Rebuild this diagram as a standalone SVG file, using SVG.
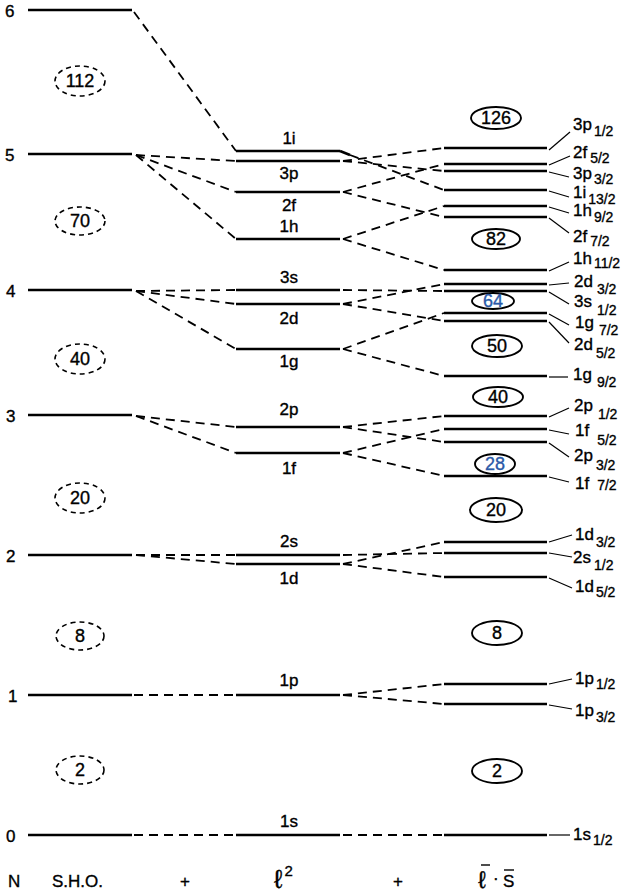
<svg xmlns="http://www.w3.org/2000/svg" width="635" height="896" viewBox="0 0 635 896">
<style>
text{font-family:"Liberation Sans","DejaVu Sans",Arial,sans-serif;fill:#000;stroke:#000;stroke-width:0.35}
.lv{stroke:#000;stroke-width:2.6;fill:none}
.sho{stroke:#000;stroke-width:2.6;fill:none}
.dl{stroke:#000;stroke-width:1.8;fill:none;stroke-dasharray:9 6}
.ld{stroke:#000;stroke-width:1.2;fill:none}
.lab{font-size:17px}
.mid{font-size:17px;text-anchor:middle}
.sub{font-size:14px}
.num{font-size:18px;text-anchor:middle}
.de{fill:none;stroke:#000;stroke-width:1.6;stroke-dasharray:5 4}
.se{fill:none;stroke:#000;stroke-width:1.9}
.blue{fill:#2b5aa8;stroke:#2b5aa8}
.bar{stroke:#000;stroke-width:1.4}
</style>

<g id="connectors">
  <path class="dl" d="M134,12 L236,151"/>
  <path class="dl" d="M136,155 L236,161"/>
  <path class="dl" d="M136,155 L236,192"/>
  <path class="dl" d="M136,155 L236,239"/>
  <path class="dl" d="M136,291 L236,290"/>
  <path class="dl" d="M136,291 L236,304"/>
  <path class="dl" d="M136,291 L236,349"/>
  <path class="dl" d="M136,416 L236,427"/>
  <path class="dl" d="M136,416 L236,453"/>
  <path class="dl" d="M136,555 L236,555"/>
  <path class="dl" d="M136,555 L236,564"/>
  <path class="dl" d="M134,695 L236,695"/>
  <path class="dl" d="M134,835 L236,835"/>

  <path class="lv" d="M340,151 L350,155"/>
  <path class="dl" d="M350,155 L444,190"/>
  <path class="dl" d="M343,161 L444,148"/>
  <path class="dl" d="M343,161 L444,171"/>
  <path class="dl" d="M343,192 L444,164"/>
  <path class="dl" d="M343,192 L444,217"/>
  <path class="dl" d="M343,239 L444,206"/>
  <path class="dl" d="M343,239 L444,270"/>
  <path class="dl" d="M343,290 L444,291"/>
  <path class="dl" d="M343,304 L444,284"/>
  <path class="dl" d="M343,304 L444,321"/>
  <path class="dl" d="M343,349 L444,313"/>
  <path class="dl" d="M343,349 L444,376"/>
  <path class="dl" d="M343,427 L444,416"/>
  <path class="dl" d="M343,427 L444,442"/>
  <path class="dl" d="M343,453 L444,429"/>
  <path class="dl" d="M343,453 L444,476"/>
  <path class="dl" d="M343,555 L444,553"/>
  <path class="dl" d="M343,564 L444,542"/>
  <path class="dl" d="M343,564 L444,577"/>
  <path class="dl" d="M343,695 L444,684"/>
  <path class="dl" d="M343,695 L444,704"/>
  <path class="dl" d="M343,835 L444,835"/>

  <path class="ld" d="M549,150 L570,132"/>
  <path class="ld" d="M549,165 L570,156"/>
  <path class="ld" d="M549,172 L569,177"/>
  <path class="ld" d="M549,191 L569,197"/>
  <path class="ld" d="M549,207 L569,213"/>
  <path class="ld" d="M549,218 L569,233"/>
  <path class="ld" d="M549,271 L569,262"/>
  <path class="ld" d="M549,285 L569,283"/>
  <path class="ld" d="M549,292 L569,304"/>
  <path class="ld" d="M549,314 L569,325"/>
  <path class="ld" d="M549,322 L569,343"/>
  <path class="ld" d="M549,377 L568,377"/>
  <path class="ld" d="M549,417 L569,408"/>
  <path class="ld" d="M549,430 L569,434"/>
  <path class="ld" d="M549,443 L569,457"/>
  <path class="ld" d="M549,477 L569,482"/>
  <path class="ld" d="M549,542 L572,535"/>
  <path class="ld" d="M549,553 L572,557"/>
  <path class="ld" d="M549,578 L572,588"/>
  <path class="ld" d="M549,684 L572,679"/>
  <path class="ld" d="M549,705 L572,709"/>
  <path class="ld" d="M549,835 L570,835"/>
</g>

<g id="sho-levels">
  <g id="sho6"><line class="sho" x1="28" y1="10" x2="132" y2="10"/><text class="lab" x="5" y="17">6</text></g>
  <g id="sho5"><line class="sho" x1="28" y1="154" x2="132" y2="154"/><text class="lab" x="5" y="161">5</text></g>
  <g id="sho4"><line class="sho" x1="28" y1="290" x2="132" y2="290"/><text class="lab" x="6" y="297">4</text></g>
  <g id="sho3"><line class="sho" x1="28" y1="415" x2="132" y2="415"/><text class="lab" x="6" y="422">3</text></g>
  <g id="sho2"><line class="sho" x1="28" y1="555" x2="132" y2="555"/><text class="lab" x="6" y="562">2</text></g>
  <g id="sho1"><line class="sho" x1="28" y1="695" x2="132" y2="695"/><text class="lab" x="8" y="702">1</text></g>
  <g id="sho0"><line class="sho" x1="28" y1="835" x2="132" y2="835"/><text class="lab" x="6" y="842">0</text></g>
</g>

<g id="sho-magic">
  <g id="m112"><ellipse class="de" cx="80" cy="81" rx="25" ry="15"/><text class="num" x="80" y="87">112</text></g>
  <g id="m70"><ellipse class="de" cx="80" cy="221" rx="25" ry="14"/><text class="num" x="80" y="227">70</text></g>
  <g id="m40"><ellipse class="de" cx="80" cy="359" rx="25" ry="15"/><text class="num" x="80" y="365">40</text></g>
  <g id="m20"><ellipse class="de" cx="80" cy="498" rx="25" ry="15"/><text class="num" x="80" y="504">20</text></g>
  <g id="m8"><ellipse class="de" cx="80" cy="636" rx="24" ry="14"/><text class="num" x="80" y="642">8</text></g>
  <g id="m2"><ellipse class="de" cx="80" cy="770" rx="24" ry="14"/><text class="num" x="80" y="776">2</text></g>
</g>

<g id="l2-levels">
  <g id="l1i"><line class="lv" x1="236" y1="151" x2="340" y2="151"/><text class="mid" x="289" y="144">1i</text></g>
  <g id="l3p"><line class="lv" x1="236" y1="161" x2="340" y2="161"/><text class="mid" x="289" y="179">3p</text></g>
  <g id="l2f"><line class="lv" x1="236" y1="192" x2="340" y2="192"/><text class="mid" x="289" y="211">2f</text></g>
  <g id="l1h"><line class="lv" x1="236" y1="239" x2="340" y2="239"/><text class="mid" x="289" y="232">1h</text></g>
  <g id="l3s"><line class="lv" x1="236" y1="290" x2="340" y2="290"/><text class="mid" x="289" y="283">3s</text></g>
  <g id="l2d"><line class="lv" x1="236" y1="304" x2="340" y2="304"/><text class="mid" x="289" y="324">2d</text></g>
  <g id="l1g"><line class="lv" x1="236" y1="349" x2="340" y2="349"/><text class="mid" x="289" y="367">1g</text></g>
  <g id="l2p"><line class="lv" x1="236" y1="427" x2="340" y2="427"/><text class="mid" x="289" y="415">2p</text></g>
  <g id="l1f"><line class="lv" x1="236" y1="453" x2="340" y2="453"/><text class="mid" x="289" y="474">1f</text></g>
  <g id="l2s"><line class="lv" x1="236" y1="555" x2="340" y2="555"/><text class="mid" x="289" y="547">2s</text></g>
  <g id="l1d"><line class="lv" x1="236" y1="564" x2="340" y2="564"/><text class="mid" x="289" y="584">1d</text></g>
  <g id="l1p"><line class="lv" x1="236" y1="695" x2="340" y2="695"/><text class="mid" x="289" y="686">1p</text></g>
  <g id="l1s"><line class="lv" x1="236" y1="835" x2="340" y2="835"/><text class="mid" x="289" y="827">1s</text></g>
</g>

<g id="ls-levels">
  <g id="s3p12"><line class="lv" x1="444" y1="148" x2="547" y2="148"/><text class="lab" x="573" y="130">3p<tspan class="sub" dx="2" dy="6">1/2</tspan></text></g>
  <g id="s2f52"><line class="lv" x1="444" y1="164" x2="547" y2="164"/><text class="lab" x="573" y="158">2f<tspan class="sub" dx="3" dy="5">5/2</tspan></text></g>
  <g id="s3p32"><line class="lv" x1="444" y1="171" x2="547" y2="171"/><text class="lab" x="573" y="179">3p<tspan class="sub" dx="2" dy="5">3/2</tspan></text></g>
  <g id="s1i132"><line class="lv" x1="444" y1="190" x2="547" y2="190"/><text class="lab" x="573" y="198">1i<tspan class="sub" dx="2" dy="6">13/2</tspan></text></g>
  <g id="s1h92"><line class="lv" x1="444" y1="206" x2="547" y2="206"/><text class="lab" x="573" y="216">1h<tspan class="sub" dx="2" dy="6">9/2</tspan></text></g>
  <g id="s2f72"><line class="lv" x1="444" y1="217" x2="547" y2="217"/><text class="lab" x="573" y="242">2f<tspan class="sub" dx="3" dy="4">7/2</tspan></text></g>
  <g id="s1h112"><line class="lv" x1="444" y1="270" x2="547" y2="270"/><text class="lab" x="573" y="264">1h<tspan class="sub" dx="2" dy="4">11/2</tspan></text></g>
  <g id="s2d32"><line class="lv" x1="444" y1="284" x2="547" y2="284"/><text class="lab" x="574" y="287">2d<tspan class="sub" dx="4" dy="7">3/2</tspan></text></g>
  <g id="s3s12"><line class="lv" x1="444" y1="291" x2="547" y2="291"/><text class="lab" x="574" y="307">3s<tspan class="sub" dx="5" dy="8">1/2</tspan></text></g>
  <g id="s1g72"><line class="lv" x1="444" y1="313" x2="547" y2="313"/><text class="lab" x="575" y="328">1g<tspan class="sub" dx="5" dy="7">7/2</tspan></text></g>
  <g id="s2d52"><line class="lv" x1="444" y1="321" x2="547" y2="321"/><text class="lab" x="574" y="350">2d<tspan class="sub" dx="3" dy="8">5/2</tspan></text></g>
  <g id="s1g92"><line class="lv" x1="444" y1="376" x2="547" y2="376"/><text class="lab" x="573" y="380">1g<tspan class="sub" dx="5" dy="7">9/2</tspan></text></g>
  <g id="s2p12"><line class="lv" x1="444" y1="416" x2="547" y2="416"/><text class="lab" x="574" y="411">2p<tspan class="sub" dx="5" dy="8">1/2</tspan></text></g>
  <g id="s1f52"><line class="lv" x1="444" y1="429" x2="547" y2="429"/><text class="lab" x="575" y="436">1f<tspan class="sub" dx="8" dy="9">5/2</tspan></text></g>
  <g id="s2p32"><line class="lv" x1="444" y1="442" x2="547" y2="442"/><text class="lab" x="574" y="461">2p<tspan class="sub" dx="3" dy="9">3/2</tspan></text></g>
  <g id="s1f72"><line class="lv" x1="444" y1="476" x2="547" y2="476"/><text class="lab" x="575" y="489">1f<tspan class="sub" dx="8" dy="1">7/2</tspan></text></g>
  <g id="s1d32"><line class="lv" x1="444" y1="542" x2="547" y2="542"/><text class="lab" x="575" y="540">1d<tspan class="sub" dx="2" dy="7">3/2</tspan></text></g>
  <g id="s2s12"><line class="lv" x1="444" y1="553" x2="547" y2="553"/><text class="lab" x="573" y="563">2s<tspan class="sub" dx="3" dy="7">1/2</tspan></text></g>
  <g id="s1d52"><line class="lv" x1="444" y1="577" x2="547" y2="577"/><text class="lab" x="575" y="592">1d<tspan class="sub" dx="2" dy="5">5/2</tspan></text></g>
  <g id="s1p12"><line class="lv" x1="444" y1="684" x2="547" y2="684"/><text class="lab" x="575" y="684">1p<tspan class="sub" dx="2" dy="5">1/2</tspan></text></g>
  <g id="s1p32"><line class="lv" x1="444" y1="704" x2="547" y2="704"/><text class="lab" x="575" y="716">1p<tspan class="sub" dx="2" dy="6">3/2</tspan></text></g>
  <g id="s1s12"><line class="lv" x1="444" y1="835" x2="547" y2="835"/><text class="lab" x="573" y="840">1s<tspan class="sub" dx="2" dy="5">1/2</tspan></text></g>
</g>

<g id="ls-magic">
  <g id="n126"><ellipse class="se" cx="496" cy="118" rx="25" ry="11"/><text class="num" x="496" y="124">126</text></g>
  <g id="n82"><ellipse class="se" cx="496" cy="239" rx="24" ry="10"/><text class="num" x="496" y="245">82</text></g>
  <g id="n64"><ellipse class="se" cx="493" cy="301" rx="21" ry="8"/><text class="num blue" x="493" y="307">64</text></g>
  <g id="n50"><ellipse class="se" cx="497" cy="346" rx="25" ry="11"/><text class="num" x="497" y="352">50</text></g>
  <g id="n40"><ellipse class="se" cx="498" cy="397" rx="25" ry="10"/><text class="num" x="498" y="403">40</text></g>
  <g id="n28"><ellipse class="se" cx="495" cy="464" rx="20" ry="10"/><text class="num blue" x="495" y="470">28</text></g>
  <g id="n20"><ellipse class="se" cx="496" cy="510" rx="26" ry="12"/><text class="num" x="496" y="516">20</text></g>
  <g id="n8"><ellipse class="se" cx="497" cy="633" rx="25" ry="12"/><text class="num" x="497" y="639">8</text></g>
  <g id="n2"><ellipse class="se" cx="497" cy="771" rx="25" ry="12"/><text class="num" x="497" y="777">2</text></g>
</g>

<g id="axis-labels">
  <text class="lab" x="8" y="887">N</text>
  <text class="lab" x="52" y="887">S.H.O.</text>
  <text class="lab" x="180" y="887">+</text>
  <text x="274" y="888" style="font-size:26px">ℓ<tspan dx="2" dy="-12" style="font-size:15px">2</tspan></text>
  <text class="lab" x="393" y="887">+</text>
  <text x="478" y="888" style="font-size:24px">ℓ</text>
  <line class="bar" x1="481" y1="865" x2="490" y2="865"/>
  <text class="lab" x="493" y="884">·</text>
  <text class="lab" x="503" y="887">S</text>
  <line class="bar" x1="504" y1="870" x2="514" y2="870"/>
</g>
</svg>
